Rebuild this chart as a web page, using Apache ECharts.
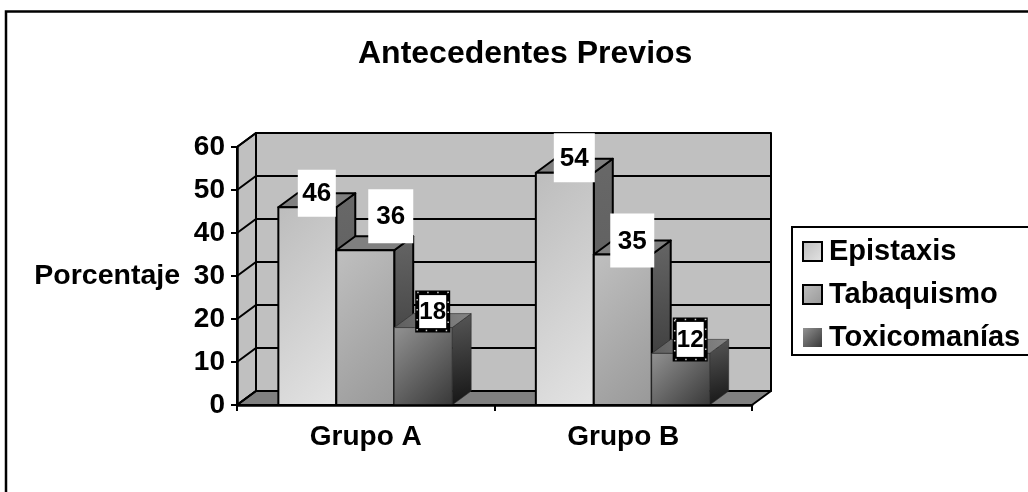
<!DOCTYPE html>
<html><head><meta charset="utf-8">
<style>html,body{margin:0;padding:0;background:#fff}#c{width:1028px;height:492px}</style>
<script src="https://cdn.jsdelivr.net/npm/echarts@6/dist/echarts.min.js"></script>
</head><body><div id="c"></div>
<script>
const categories = ['Grupo A', 'Grupo B'];
const epistaxis = [46, 54];
const tabaquismo = [36, 35];
const toxicomanias = [18, 12];
const yTicks = [0, 10, 20, 30, 40, 50, 60];
const seriesNames = ['Epistaxis', 'Tabaquismo', 'Toxicomanías'];

const FONT = '"Liberation Sans", Arial, sans-serif';
const DX = 19, DY = -14, BARFRAC = 0.225;
const grad = (x, y, x2, y2, a, b) => new echarts.graphic.LinearGradient(x, y, x2, y2, [{offset: 0, color: a}, {offset: 1, color: b}]);
// 45-degree (in pixels) gradient across a w x h box
const diag = (w, h, a, b) => {
  const ex = (w + h) / (4 * w), ey = (w + h) / (4 * h);
  return grad(0.5 - ex, 0.5 - ey, 0.5 + ex, 0.5 + ey, a, b);
};
const looks = [
  {front: ['#bcbcbc', '#e4e4e4'], side: grad(0, 0, 1, 1, '#686868', '#585858'), top: '#808080'},
  {front: ['#c0c0c0', '#989898'], side: grad(0, 0, 1, 1, '#666666', '#303030'), top: '#808080'},
  {front: ['#929292', '#383838'], side: grad(0, 0, 1, 1, '#585858', '#141414'), top: grad(0, 1, 1, 0, '#5e5e5e', '#858585')}
];
const stroke = {stroke: '#000', lineWidth: 2, lineJoin: 'round'};
const poly = (points, fill, st) => ({type: 'polygon', shape: {points}, style: Object.assign({fill}, st || stroke)});
const softEdge = {stroke: '#2a2a2a', lineWidth: 0.6, lineJoin: 'round'};

function barGeom(api, s) {
  const cat = api.value(0), val = api.value(1);
  const base = api.coord([cat, 0]), top = api.coord([cat, val]);
  const w = api.size([1, 0])[0] * BARFRAC;
  const x0 = base[0] - 1.5 * w + s * w - 0.5;
  return {x0, x1: x0 + w, y0: top[1], yb: base[1], w};
}
const barRenderer = s => (params, api) => {
  const g = barGeom(api, s), L = looks[s], st = s === 2 ? softEdge : stroke;
  return {type: 'group', children: [
    poly([[g.x1, g.yb], [g.x1 + DX, g.yb + DY], [g.x1 + DX, g.y0 + DY], [g.x1, g.y0]], L.side, st),
    poly([[g.x0, g.y0], [g.x0 + DX, g.y0 + DY], [g.x1 + DX, g.y0 + DY], [g.x1, g.y0]], L.top, st),
    poly([[g.x0, g.yb], [g.x0, g.y0], [g.x1, g.y0], [g.x1, g.yb]], diag(g.w, g.yb - g.y0, L.front[0], L.front[1]), st)
  ]};
};
const labelBoxes = {
  '0-0': {w: 38, h: 47, dy: -14, dx: 0}, '0-1': {w: 41, h: 49, dy: -15, dx: 0},
  '1-0': {w: 45, h: 54, dy: -34, dx: 16}, '1-1': {w: 44, h: 54, dy: -14, dx: 0},
  '2-0': {w: 35, h: 42, dy: -16, dx: 0}, '2-1': {w: 35, h: 44, dy: -14, dx: 0}
};
const labelRenderer = s => (params, api) => {
  const g = barGeom(api, s), b = labelBoxes[s + '-' + api.value(0)];
  const cx = g.x0 + g.w / 2 + DX / 2 + b.dx, cy = g.y0 + b.dy;
  const rect = {x: cx - b.w / 2, y: cy - b.h / 2, width: b.w, height: b.h};
  const ch = [];
  if (s === 2) {
    ch.push({type: 'rect', shape: rect, style: {fill: '#000'}});
    ch.push({type: 'rect', shape: {x: rect.x + 2, y: rect.y + 2, width: b.w - 4, height: b.h - 4}, style: {fill: 'none', stroke: '#ccc', lineWidth: 1.5, lineDash: [1.5, 8.5]}});
    ch.push({type: 'rect', shape: {x: rect.x + 4, y: rect.y + 4.5, width: b.w - 8, height: b.h - 9}, style: {fill: '#fff'}});
  } else {
    ch.push({type: 'rect', shape: rect, style: {fill: '#fff'}});
  }
  ch.push({type: 'text', style: {x: cx, y: cy + 1, text: String(api.value(1)), fill: '#000', align: 'center', verticalAlign: 'middle',
    fontFamily: FONT, fontWeight: 'bold', fontSize: s === 2 ? 24 : 26}});
  return {type: 'group', children: ch};
};
function frameRenderer(params, api) {
  const cs = params.coordSys, l = cs.x, r = cs.x + cs.width;
  const yOf = v => api.coord([0, v])[1];
  const b = yOf(yTicks[0]), t = yOf(yTicks[yTicks.length - 1]);
  const ch = [
    poly([[l + DX, b + DY], [l + DX, t + DY], [r + DX, t + DY], [r + DX, b + DY]], '#c0c0c0'),
    poly([[l, b], [l, t], [l + DX, t + DY], [l + DX, b + DY]], '#c0c0c0'),
    poly([[l, b], [l + DX, b + DY], [r + DX, b + DY], [r, b]], '#808080')
  ];
  yTicks.forEach(v => {
    const y = yOf(v);
    ch.push({type: 'polyline', shape: {points: [[l, y], [l + DX, y + DY], [r + DX, y + DY]]}, style: {fill: 'none', stroke: '#000', lineWidth: 2}});
  });
  return {type: 'group', children: ch};
}
const axisLine = {show: true, lineStyle: {color: '#000', width: 2.5}};
const axisTick = {show: true, length: 6, lineStyle: {color: '#000', width: 2}};
const axisText = {color: '#000', fontFamily: FONT, fontWeight: 'bold', fontSize: 28};
const valueSets = [epistaxis, tabaquismo, toxicomanias];
const toData = vals => vals.map((v, i) => [i, v]);
const option = {
  animation: false,
  backgroundColor: '#fff',
  title: {text: 'Antecedentes Previos', left: 358, top: 38, padding: 0,
    textStyle: {color: '#000', fontFamily: FONT, fontWeight: 'bold', fontSize: 32}},
  grid: {left: 237, right: 276, top: 147, bottom: 87},
  xAxis: {type: 'category', data: categories, z: 5, axisLine, axisTick, axisLabel: Object.assign({margin: 18}, axisText)},
  yAxis: {type: 'value', min: 0, max: 60, interval: 10, z: 5, axisLine, axisTick, splitLine: {show: false},
    name: 'Porcentaje', nameLocation: 'middle', nameRotate: 0, nameGap: 57,
    nameTextStyle: Object.assign({fontSize: 28.5, padding: [5, 0, 0, 0]}, {color: '#000', fontFamily: FONT, fontWeight: 'bold'}),
    axisLabel: Object.assign({margin: 12, padding: [2, 0, 0, 0]}, axisText)},
  legend: {left: 792, top: 227, orient: 'vertical', icon: 'rect', itemWidth: 19, itemHeight: 19, itemGap: 14,
    padding: [10, 60, 3, 10], borderColor: '#000', borderWidth: 2, backgroundColor: '#fff',
    textStyle: {color: '#000', fontFamily: FONT, fontWeight: 'bold', fontSize: 29, padding: [0, 0, 0, 2]},
    data: seriesNames.map((name, i) => ({name, itemStyle: {color: diag(19, 19, looks[i].front[0], looks[i].front[1]), borderColor: i < 2 ? '#000' : 'transparent', borderWidth: i < 2 ? 2 : 0}}))},
  graphic: [{type: 'polyline', silent: true, z: 0, shape: {points: [[6, 492], [6, 11.5], [1028, 11.5]]}, style: {fill: 'none', stroke: '#000', lineWidth: 2.5}}],
  series: [
    {type: 'custom', data: [[0, 0]], encode: {x: 0, y: 1}, renderItem: frameRenderer, z: 1, silent: true, clip: false}
  ].concat(valueSets.map((vals, s) => ({
    type: 'custom', name: seriesNames[s], data: toData(vals), encode: {x: 0, y: 1}, renderItem: barRenderer(s), z: 2 + s, clip: false,
    itemStyle: {color: looks[s].front[0]}
  }))).concat(valueSets.map((vals, s) => ({
    type: 'custom', data: toData(vals), encode: {x: 0, y: 1}, renderItem: labelRenderer(s), z: 10, clip: false
  })))
};
echarts.init(document.getElementById('c')).setOption(option);
</script></body></html>
